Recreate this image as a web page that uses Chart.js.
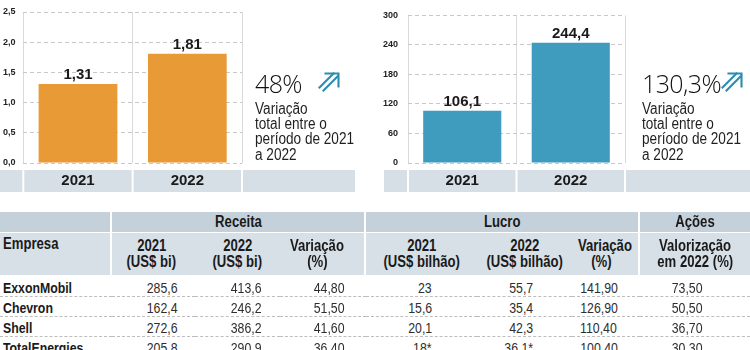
<!DOCTYPE html>
<html lang="pt-BR">
<head>
<meta charset="utf-8">
<script src="https://cdn.jsdelivr.net/npm/chart.js@4/dist/chart.umd.min.js"></script>
<style>
  html, body { margin:0; padding:0; background:#fff; }
  body { width:750px; height:350px; overflow:hidden; position:relative;
         font-family:'Liberation Sans',Arial,sans-serif; color:#1a1a1a; }
  canvas { position:absolute; top:0; }
  #c1 { left:0; }
  #c2 { left:383px; }
  .pct { position:absolute; font-family:'Open Sans','Liberation Sans',sans-serif; font-weight:300; font-size:25px; line-height:24px; color:#111; white-space:nowrap; letter-spacing:-0.6px; }
  .arrow { position:absolute; width:22px; height:20px; }
  .desc { position:absolute; font-size:16px; line-height:15.4px; color:#1f1f1f; white-space:nowrap; transform:scaleX(0.85); transform-origin:0 0; }
  .n { display:inline-block; transform:scaleX(0.82); }
  .o-c { transform-origin:50% 50%; }
  .o-l { transform-origin:0 50%; }
  .o-r { transform-origin:100% 50%; }
  table { position:absolute; left:0; top:212px; width:750px; border-collapse:separate; border-spacing:0; table-layout:fixed; white-space:nowrap; }
  th, td { padding:0; }
  tr.g th { background:#c5d1da; font-size:16px; font-weight:bold; line-height:20px; border-bottom:1px solid #fff; text-align:center; }
  tr.s th { background:#d7e0e7; font-size:16px; font-weight:bold; line-height:16px; padding:5px 0; border-bottom:2px solid #fff; text-align:center; vertical-align:middle; }
  tr.s th.emp { text-align:left; vertical-align:top; padding:3px 0 0 3px; }
  th.sep { border-right:2px solid #fff; }
  td { font-size:15px; line-height:16px; padding-top:3px; border-bottom:1px dashed #bdbdbd; text-align:right; color:#2e2e2e; }
  td.emp { text-align:left; font-weight:bold; padding-left:3px; color:#1a1a1a; }
  td.c1 { padding-right:17px; } td.c2 { padding-right:18px; } td.c3 { padding-right:21px; }
  td.c4 { padding-right:45px; } td.c5 { padding-right:39px; } td.c6 { padding-right:30px; } td.c7 { padding-right:47px; }
  th.h1 { padding-right:4px !important; }
  th.h3 { padding-right:10px !important; } th.h6 { padding-right:8px !important; }
</style>
</head>
<body>
<canvas id="c1" width="360" height="200"></canvas>
<canvas id="c2" width="367" height="200"></canvas>

<div class="pct" id="p1" style="left:255px; top:71px;"></div>
<svg class="arrow" style="left:318px; top:72px;" viewBox="0 0 22 20"><g fill="none" stroke="#2a8db0" stroke-width="2.1" stroke-linecap="square"><path d="M7.5 1.5H20.5V14.5"/><path d="M1.5 15.5L15.5 1.5"/><path d="M5.5 18.5L19.5 4.5"/></g></svg>
<div class="desc" id="d1" style="left:255px; top:100.5px;"></div>

<div class="pct" id="p2" style="left:642px; top:71px;"></div>
<svg class="arrow" style="left:721px; top:72px;" viewBox="0 0 22 20"><g fill="none" stroke="#2a8db0" stroke-width="2.1" stroke-linecap="square"><path d="M7.5 1.5H20.5V14.5"/><path d="M1.5 15.5L15.5 1.5"/><path d="M5.5 18.5L19.5 4.5"/></g></svg>
<div class="desc" id="d2" style="left:642px; top:100.5px;"></div>

<table id="tbl">
  <colgroup>
    <col style="width:112px"><col style="width:83px"><col style="width:85px"><col style="width:86px">
    <col style="width:111px"><col style="width:95px"><col style="width:68px"><col style="width:110px">
  </colgroup>
  <thead></thead>
  <tbody></tbody>
</table>

<script>
// ---------- DATA ----------
const years = ['2021', '2022'];
const receitaTotal = [1.31, 1.81];
const lucroTotal = [106.1, 244.4];
const receitaTicks = [0, 0.5, 1.0, 1.5, 2.0, 2.5];
const lucroTicks = [0, 60, 120, 180, 240, 300];
const variacaoTotal = ['48%', '130,3%'];
const variacaoTexto = ['Variação', 'total entre o', 'período de 2021', 'a 2022'];

const grupos = ['Receita', 'Lucro', 'Ações'];
const colEmpresa = 'Empresa';
const subCabecalhos = [
  ['2021', '(US$ bi)'], ['2022', '(US$ bi)'], ['Variação', '(%)'],
  ['2021', '(US$ bilhão)'], ['2022', '(US$ bilhão)'], ['Variação', '(%)'],
  ['Valorização', 'em 2022 (%)']
];
const empresas = ['ExxonMobil', 'Chevron', 'Shell', 'TotalEnergies'];
const receita2021 = ['285,6', '162,4', '272,6', '205,8'];
const receita2022 = ['413,6', '246,2', '386,2', '290,9'];
const receitaVar = ['44,80', '51,50', '41,60', '36,40'];
const lucro2021 = ['23', '15,6', '20,1', '18*'];
const lucro2022 = ['55,7', '35,4', '42,3', '36,1*'];
const lucroVar = ['141,90', '126,90', '110,40', '100,40'];
const acoesVal = ['73,50', '50,50', '36,70', '30,30'];

// ---------- STYLE ----------
const ORANGE = '#e89a37';
const BLUE = '#3f9cbf';
const BAND = '#d6dfe6';
const TXT = '#1a1a1a';

const bandPlugin = {
  id: 'band',
  beforeDraw(chart, args, o) {
    const { ctx, chartArea } = chart;
    const xs = chart.scales.x;
    const n = xs.ticks.length;
    const half = (chartArea.right - chartArea.left) / n / 2;
    const edges = [o.start, chartArea.left];
    for (let i = 0; i < n; i++) edges.push(xs.getPixelForValue(i) + half);
    edges.push(o.end);
    ctx.save();
    ctx.fillStyle = o.color;
    for (let i = 0; i < edges.length - 1; i++) {
      const a = i === 0 ? edges[0] : edges[i] + 1;
      const b = i === edges.length - 2 ? edges[i + 1] : edges[i + 1] - 1;
      ctx.fillRect(a, o.top, b - a, o.height);
    }
    ctx.restore();
  }
};

const valuePlugin = {
  id: 'vals',
  afterDatasetsDraw(chart, args, o) {
    const { ctx } = chart;
    const meta = chart.getDatasetMeta(0);
    const data = chart.data.datasets[0].data;
    ctx.save();
    ctx.font = "bold 15px 'Liberation Sans', sans-serif";
    ctx.fillStyle = TXT;
    ctx.textAlign = 'center';
    ctx.textBaseline = 'alphabetic';
    meta.data.forEach((bar, i) => {
      ctx.fillText(data[i].toFixed(o.decimals).replace('.', ','), bar.x, bar.y - 5);
    });
    ctx.restore();
  }
};

function makeChart(id, values, color, ticks, decimals, tickDecimals, pad, yWidth, crossAlign, tickPad, bandStart, bandEnd) {
  return new Chart(document.getElementById(id), {
    type: 'bar',
    data: { labels: years, datasets: [{ data: values, backgroundColor: color, borderWidth: 0 }] },
    plugins: [bandPlugin, valuePlugin],
    options: {
      responsive: false,
      animation: false,
      devicePixelRatio: 1,
      layout: { padding: pad },
      plugins: {
        legend: { display: false },
        tooltip: { enabled: false },
        band: { start: bandStart, end: bandEnd, top: 170, height: 22, color: BAND },
        vals: { decimals: decimals }
      },
      scales: {
        x: {
          grid: { color: '#d9d9d9', lineWidth: 1, drawTicks: false, offset: true },
          border: { display: false },
          ticks: { padding: 9, color: TXT, font: { family: "'Liberation Sans', sans-serif", size: 15, weight: 'bold' } },
          afterFit(s) { s.height = 37; }
        },
        y: {
          min: ticks[0], max: ticks[ticks.length - 1],
          afterBuildTicks(s) { s.ticks = ticks.map(v => ({ value: v })); },
          grid: { color: '#c8c8c8', lineWidth: 1, drawTicks: false },
          border: { display: false, dash: [4, 3] },
          ticks: {
            crossAlign: crossAlign, padding: tickPad, color: '#222',
            font: { family: "'Liberation Sans', sans-serif", size: 9, weight: 'bold' },
            callback: v => Number(v).toFixed(tickDecimals).replace('.', ',')
          },
          afterFit(s) { s.width = yWidth; }
        }
      }
    }
  });
}

makeChart('c1', receitaTotal, ORANGE, receitaTicks, 2, 1, { left: 3, top: 12, right: 118, bottom: 0 }, 20.3, 'far', 0, 0, 355);
makeChart('c2', lucroTotal, BLUE, lucroTicks, 1, 0, { left: 0, top: 12, right: 125, bottom: 0 }, 25, 'near', 10, 1, 367);

// annotations
document.getElementById('p1').textContent = variacaoTotal[0];
document.getElementById('p2').textContent = variacaoTotal[1];
document.getElementById('d1').innerHTML = variacaoTexto.join('<br>');
document.getElementById('d2').innerHTML = variacaoTexto.join('<br>');

// table
const sp = (t, o) => `<span class="n o-${o}">${t}</span>`;
const thead = document.querySelector('#tbl thead');
const tbody = document.querySelector('#tbl tbody');
let h1 = '<tr class="g"><th class="sep"></th>';
grupos.forEach((g, i) => {
  const span = i < 2 ? 3 : 1;
  h1 += `<th colspan="${span}"${i < 2 ? ' class="sep"' : ''}>${sp(g, 'c')}</th>`;
});
h1 += '</tr>';
let h2 = `<tr class="s"><th class="emp sep">${sp(colEmpresa, 'l')}</th>`;
subCabecalhos.forEach((s, i) => {
  const cls = [];
  if (i === 2 || i === 5) cls.push('sep');
  if (i === 0) cls.push('h1');
  if (i === 2) cls.push('h3');
  if (i === 5) cls.push('h6');
  h2 += `<th class="${cls.join(' ')}">${sp(s[0], 'c')}<br>${sp(s[1], 'c')}</th>`;
});
h2 += '</tr>';
thead.innerHTML = h1 + h2;

const cols = [receita2021, receita2022, receitaVar, lucro2021, lucro2022, lucroVar, acoesVal];
let rows = '';
empresas.forEach((e, r) => {
  rows += `<tr><td class="emp">${sp(e, 'l')}</td>`;
  cols.forEach((c, i) => { rows += `<td class="c${i + 1}">${sp(c[r], 'r')}</td>`; });
  rows += '</tr>';
});
tbody.innerHTML = rows;
</script>
</body>
</html>
